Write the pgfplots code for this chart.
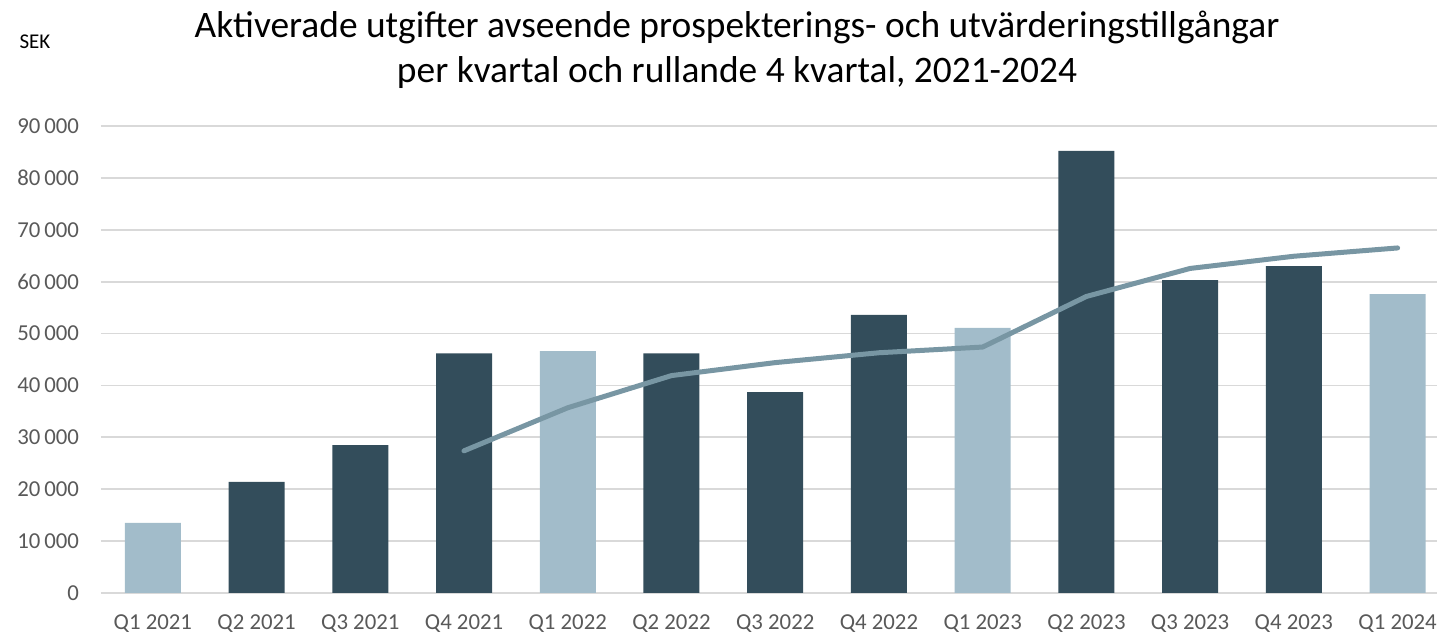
\documentclass[border=0pt]{standalone}
\usepackage{pgfplots}
\pgfplotsset{compat=1.18}
\usepackage{fontspec}
\setmainfont{Carlito}
\definecolor{darkbar}{HTML}{334D5B}
\definecolor{lightbar}{HTML}{A2BCCA}
\definecolor{linec}{HTML}{7896A3}
\definecolor{gridc}{HTML}{D9D9D9}
\definecolor{tickc}{HTML}{595959}
\begin{document}
\begin{tikzpicture}
\path[use as bounding box] (-50.5pt,-21pt) rectangle (668pt,296.5pt);
\begin{axis}[
  at={(0,0)}, anchor=south west,
  scale only axis, width=668pt, height=233.5pt,
  xmin=-0.5, xmax=12.38, ymin=0, ymax=90000,
  xtick={0,...,12},
  xticklabels={Q1 2021,Q2 2021,Q3 2021,Q4 2021,Q1 2022,Q2 2022,Q3 2022,Q4 2022,Q1 2023,Q2 2023,Q3 2023,Q4 2023,Q1 2024},
  ytick={0,10000,...,90000},
  scaled y ticks=false,
  /pgf/number format/assume math mode=true,
  /pgf/number format/1000 sep={\,},
  axis line style={draw=none},
  major tick length=0pt,
  ymajorgrids, grid style={gridc, line width=0.9pt},
  tick label style={font=\fontsize{11.4}{13}\selectfont, text=tickc},
  yticklabel style={xshift=-7.5pt},
  xticklabel style={yshift=-7.5pt},
  clip=false,
]
\addplot[ybar, bar width=28pt, fill=darkbar, draw=none, bar shift=0pt] coordinates {
 (1,21400) (2,28500) (3,46200) (5,46200) (6,38700) (7,53600) (9,85200) (10,60300) (11,63000)
};
\addplot[ybar, bar width=28pt, fill=lightbar, draw=none, bar shift=0pt] coordinates {
 (0,13500) (4,46600) (8,51100) (12,57600)
};
\addplot[linec, line width=2.5pt, line cap=round, line join=round, mark=none] coordinates {
 (3,27400) (4,35700) (5,41900) (6,44400) (7,46300) (8,47400) (9,57150) (10,62550) (11,64900) (12,66500)
};
\end{axis}
\node[align=center, font=\fontsize{18.7}{22.5}\selectfont] at (318pt,271.75pt) {Aktiverade utgifter avseende prospekterings- och utvärderingstillgångar\\per kvartal och rullande 4 kvartal, 2021-2024};
\node[font=\fontsize{10.5}{12}\selectfont] at (-33pt,275.5pt) {SEK};
\end{tikzpicture}
\end{document}
